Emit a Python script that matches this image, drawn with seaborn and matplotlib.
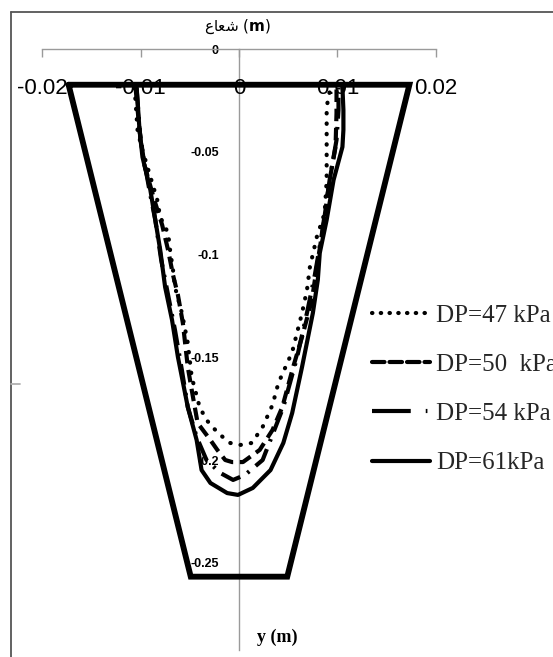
import matplotlib
matplotlib.use("Agg")
import matplotlib.pyplot as plt
import seaborn as sns
import pandas as pd
from matplotlib.lines import Line2D

sns.set_theme(style="white")
plt.rcParams["font.family"] = ["DejaVu Sans"]

# ---------------- data (metres) ----------------
series_labels = ["DP=47 kPa", "DP=50  kPa", "DP=54 kPa", "DP=61kPa"]

x47 = [-0.0106, -0.0103, -0.0099, -0.0083, -0.0080, -0.0072, -0.0070, -0.0067, -0.0065,
       -0.0058, -0.0052, -0.0048, -0.0040, -0.0033, -0.0026, -0.0019, -0.0009, 0.0001,
       0.0013, 0.0024, 0.0034, 0.0040, 0.0049, 0.0054, 0.0064, 0.0069, 0.0072, 0.0079,
       0.0087, 0.0089, 0.0089, 0.0089, 0.0092, 0.0096]
y47 = [-0.0189, -0.0393, -0.0476, -0.0734, -0.0817, -0.0895, -0.0977, -0.1075, -0.1158,
       -0.1284, -0.1430, -0.1596, -0.1742, -0.1805, -0.1844, -0.1878, -0.1917, -0.1927,
       -0.1917, -0.1839, -0.1732, -0.1625, -0.1528, -0.1474, -0.1284, -0.1172, -0.1060, -0.0914,
       -0.0797, -0.0637, -0.0476, -0.0281, -0.0208, -0.0189]

x50 = [-0.0105, -0.0101, -0.0096, -0.0086, -0.0078, -0.0072, -0.0067, -0.0062, -0.0057,
       -0.0052, -0.0048, -0.0042, -0.0029, -0.0022, -0.0014, -0.0007, 0.0004, 0.0021,
       0.0034, 0.0044, 0.0055, 0.0064, 0.0074, 0.0079, 0.0085, 0.0092, 0.0098, 0.0099, 0.0099]
y50 = [-0.0189, -0.0393, -0.0564, -0.0734, -0.0856, -0.0978, -0.1099, -0.1197, -0.1333,
       -0.1547, -0.1659, -0.1820, -0.1903, -0.1951, -0.2000, -0.2010, -0.2010, -0.1951,
       -0.1854, -0.1742, -0.1547, -0.1401, -0.1221, -0.1060, -0.0880, -0.0637, -0.0476, -0.0311, -0.0189]

x54 = [-0.0104, -0.0100, -0.0091, -0.0085, -0.0079, -0.0073, -0.0065, -0.0058, -0.0052,
       -0.0043, -0.0033, -0.0019, -0.0006, 0.0006, 0.0024, 0.0045, 0.0059, 0.0069,
       0.0077, 0.0084, 0.0092, 0.0099, 0.0101, 0.0101]
y54 = [-0.0189, -0.0442, -0.0685, -0.0831, -0.1026, -0.1172, -0.1367, -0.1562, -0.1742,
       -0.1888, -0.2000, -0.2063, -0.2097, -0.2073, -0.2000, -0.1742, -0.1499, -0.1284,
       -0.1099, -0.0904, -0.0637, -0.0442, -0.0296, -0.0189]

x61 = [-0.0104, -0.0101, -0.0098, -0.0090, -0.0085, -0.0080, -0.0075, -0.0068, -0.0062,
       -0.0052, -0.0043, -0.0038, -0.0029, -0.0012, -0.0001, 0.0014, 0.0032, 0.0045,
       0.0054, 0.0064, 0.0075, 0.0080, 0.0082, 0.0089, 0.0096, 0.0105, 0.0106, 0.0106, 0.0105]
y61 = [-0.0180, -0.0393, -0.0525, -0.0685, -0.0831, -0.0977, -0.1158, -0.1318, -0.1499,
       -0.1742, -0.1903, -0.2049, -0.2112, -0.2161, -0.2170, -0.2136, -0.2049, -0.1917,
       -0.1771, -0.1547, -0.1284, -0.1124, -0.0992, -0.0831, -0.0637, -0.0476, -0.0393, -0.0296, -0.0184]

chan_x = [-0.0173, 0.0173, 0.0049, -0.0049, -0.0173]
chan_y = [-0.0173, -0.0173, -0.2568, -0.2568, -0.0173]

xticks = [-0.02, -0.01, 0, 0.01, 0.02]
xtick_labels = ["-0.02", "-0.01", "0", "0.01", "0.02"]
yticks = [0, -0.05, -0.1, -0.15, -0.2, -0.25]
ytick_labels = ["0", "-0.05", "-0.1", "-0.15", "-0.2", "-0.25"]

top_title = "\uFEC9\uFE8E\uFECC\uFEB7 ($\\mathbf{m}$)"   # شعاع (m), visual order
bottom_title = "y (m)"

# ---------------- figure ----------------
W, H = 553, 657
fig = plt.figure(figsize=(W / 100, H / 100), dpi=100)
fig.patch.set_facecolor("white")
ax = fig.add_axes([42 / W, 1 - 650 / H, (436 - 42) / W, (650 - 49.2) / H])
ax.set_facecolor("white")

LW = 3.0
plot_styles = [
    dict(dashes=(0.1, 2.4), dash_capstyle="round"),
    dict(dashes=(3.0, 1.6), dash_capstyle="butt"),
    dict(dashes=(5.0, 2.0, 0.6, 2.0), dash_capstyle="butt"),
    dict(),
]
datasets = [(x47, y47), (x50, y50), (x54, y54), (x61, y61)]
for (xs, ys), lab, st in zip(datasets, series_labels, plot_styles):
    df = pd.DataFrame({"x": xs, "y": ys})
    sns.lineplot(data=df, x="x", y="y", sort=False, estimator=None, ax=ax,
                 color="black", lw=LW, legend=False, zorder=3, **st)

dfc = pd.DataFrame({"x": chan_x, "y": chan_y})
sns.lineplot(data=dfc, x="x", y="y", sort=False, estimator=None, ax=ax,
             color="black", lw=4.2, legend=False, zorder=4,
             solid_joinstyle="miter")

ax.set_xlim(-0.02, 0.02)
ax.set_ylim(-0.2925, 0)
ax.set_xlabel("")
ax.set_ylabel("")

for s in ["bottom", "right"]:
    ax.spines[s].set_visible(False)
ax.spines["top"].set_color("#9a9a9a")
ax.spines["top"].set_linewidth(1)
ax.spines["left"].set_position(("data", 0))
ax.spines["left"].set_color("#9a9a9a")
ax.spines["left"].set_linewidth(1)
ax.spines["left"].set_zorder(1)

ax.xaxis.set_ticks_position("top")
ax.set_xticks(xticks)
ax.tick_params(axis="x", direction="in", length=5.5, width=1, color="#9a9a9a",
               labeltop=False, labelbottom=False)
ax.set_yticks(yticks, ytick_labels)
ax.tick_params(axis="y", direction="out", length=3.6, width=1, color="#9a9a9a",
               pad=11, labelsize=9, labelcolor="black")
for t in ax.get_yticklabels():
    t.set_fontweight("bold")
    t.set_fontfamily("Liberation Sans")

for xv, lab in zip(xticks, xtick_labels):
    ax.text(xv, -0.0189, lab, ha="center", va="center", fontsize=16,
            family="Liberation Sans", color="black", zorder=2)

fig.text(238 / W, 1 - 27 / H, top_title, ha="center", va="center", fontsize=11,
         color="black")
fig.text(277 / W, 1 - 637 / H, bottom_title, ha="center", va="center", fontsize=13,
         family="Liberation Serif", fontweight="bold", color="black")

# chart border
fig.add_artist(Line2D([11 / W, 11 / W], [0, 1 - 12 / H], transform=fig.transFigure,
                      color="#555555", lw=1.3))
fig.add_artist(Line2D([11 / W, 1], [1 - 12 / H, 1 - 12 / H], transform=fig.transFigure,
                      color="#555555", lw=1.3))
fig.add_artist(Line2D([11 / W, 20 / W], [1 - 384 / H, 1 - 384 / H], transform=fig.transFigure,
                      color="#b0b0b0", lw=1.3))

# legend
leg_styles = [
    dict(dashes=(0.1, 2.0), dash_capstyle="round"),
    dict(dashes=(3.0, 1.2), dash_capstyle="round"),
    dict(dashes=(9.3, 3.6, 0.4, 5.0), dash_capstyle="butt"),
    dict(),
]
handles = [Line2D([], [], color="black", lw=LW, **st) for st in leg_styles]
fig.legend(handles, series_labels, loc="upper left",
           bbox_to_anchor=(372 / W, 1 - 304 / H), frameon=False, borderpad=0,
           borderaxespad=0, handlelength=2.3, handletextpad=0.25, labelspacing=1.07,
           prop={"family": "Liberation Serif", "size": 18})

fig.savefig("out.png", dpi=100, facecolor="white")
